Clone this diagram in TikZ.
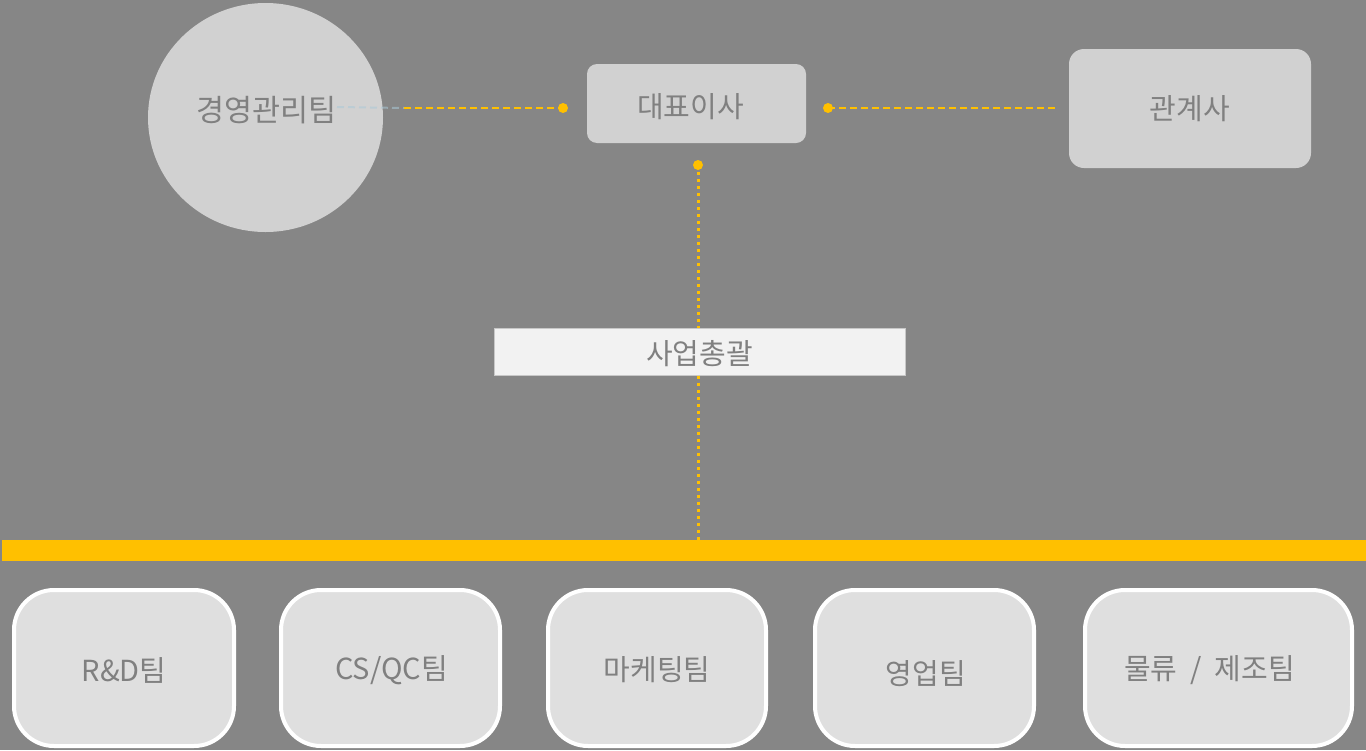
\documentclass[tikz,border=0pt]{standalone}
\usepackage{fontspec}
\setmainfont{Noto Sans CJK KR}
\usetikzlibrary{shapes.geometric}
\definecolor{bg}{HTML}{868686}
\definecolor{gold}{HTML}{FFC000}
\definecolor{boxgray}{HTML}{D1D1D1}
\definecolor{teamgray}{HTML}{DFDFDF}
\definecolor{txt}{HTML}{808080}
\definecolor{pale}{HTML}{F2F2F2}
\definecolor{bluegray}{RGB}{170,200,215}
\tikzset{
  lbl/.style={text=txt, font=\fontsize{29}{34}\selectfont},
  topbox/.style={fill=boxgray, draw=none, rounded corners=10pt},
  teambox/.style={fill=teamgray, draw=white, line width=4pt, rounded corners=40pt, minimum height=156pt},
  golddash/.style={gold, line width=2.5pt, dash pattern=on 7pt off 4pt},
  golddot/.style={gold, line width=3pt, dash pattern=on 3pt off 4pt},
  endpt/.style={circle, fill=gold, inner sep=0pt, minimum size=10pt}
}
\begin{document}
\begin{tikzpicture}[x=1pt,y=-1pt]
\fill[bg] (0,0) rectangle (1366,750);
\useasboundingbox (0,0) rectangle (1366,750);
% top row
\node[ellipse, fill=boxgray, inner sep=0pt, minimum width=235pt, minimum height=229pt,
      label={[lbl, font=\fontsize{30.5}{36}\selectfont, yshift=7pt, xshift=1pt]center:경영관리팀}] (mgmt) at (265.5,117.5) {};
\node[topbox, minimum width=219pt, minimum height=79pt,
      label={[lbl, yshift=-3pt, xshift=-6pt]center:대표이사}] (ceo) at (696.5,103.5) {};
\node[topbox, rounded corners=15pt, minimum width=242pt, minimum height=119pt,
      label={[lbl, yshift=-0.5pt]center:관계사}] (aff) at (1190,108.5) {};
% business
\node[fill=pale, draw={rgb,255:red,200;green,200;blue,200}, line width=1pt,
      minimum width=411pt, minimum height=47pt,
      label={[lbl, yshift=-2.5pt]center:사업총괄}] (biz) at (699.5,351.5) {};
% gold bar
\node[fill=gold, inner sep=0pt, minimum width=1364pt, minimum height=21pt] (bar) at (684,550.5) {};
% endpoints
\node[endpt] (d1) at (563,108) {};
\node[endpt] (d2) at (828,108) {};
\node[endpt] (d3) at (698,165) {};
\coordinate (c1) at (337,107);
\coordinate (c2) at (404,108);
\coordinate (c3) at (1055,108);
% connectors
\draw[bluegray, opacity=0.55, line width=2pt, dash pattern=on 7pt off 4pt] (c1) -- (c2);
\draw[golddash] (c2) -- (d1.center);
\draw[golddash] (d2.center) -- (c3);
\draw[golddot] (d3.center) -- (biz.north -| d3);
\draw[golddot] (biz.south -| d3) -- (bar.north -| d3);
% teams
\node[teambox, minimum width=220pt, label={[lbl, yshift=-2pt]center:R\&D팀}] (rd) at (124,668) {};
\node[teambox, minimum width=219pt, label={[lbl, yshift=-2pt, xshift=1pt]center:CS/QC팀}] (cs) at (390.5,668) {};
\node[teambox, minimum width=218pt, label={[lbl, yshift=-2pt]center:마케팅팀}] (mk) at (657,668) {};
\node[teambox, minimum width=219pt, label={[lbl, yshift=-6pt, xshift=1.5pt]center:영업팀}] (sales) at (924.5,668) {};
\node[teambox, minimum width=267pt, label={[lbl, yshift=-2pt, xshift=-9pt]center:{\spaceskip=0.45em 물류 / 제조팀}}] (log) at (1218.5,668) {};
\end{tikzpicture}
\end{document}
